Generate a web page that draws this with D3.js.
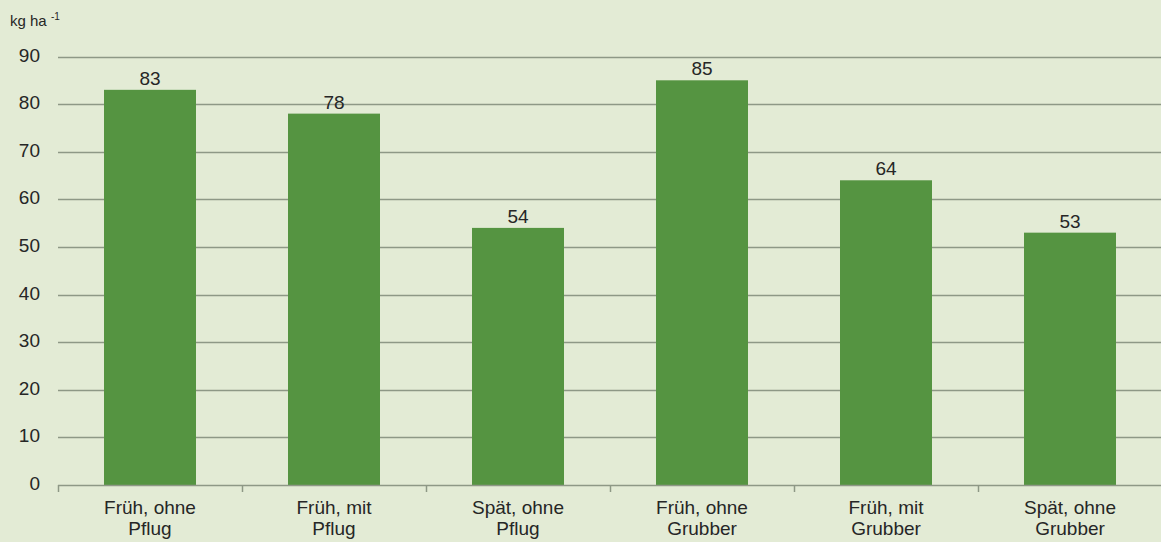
<!DOCTYPE html>
<html><head><meta charset="utf-8">
<script src="https://cdn.jsdelivr.net/npm/d3@7"></script>
<style>html,body{margin:0;padding:0;background:#e3ebd5;}svg{display:block;font-family:"Liberation Sans",Arial,sans-serif;}</style>
</head><body><svg id="c" width="1161" height="542"></svg>
<script>
const categories = [["Früh, ohne","Pflug"],["Früh, mit","Pflug"],["Spät, ohne","Pflug"],["Früh, ohne","Grubber"],["Früh, mit","Grubber"],["Spät, ohne","Grubber"]];
const values = [83,78,54,85,64,53];
const yTicks = [0,10,20,30,40,50,60,70,80,90];

const svg = d3.select("#c");
svg.append("rect").attr("width",1161).attr("height",542).attr("fill","#e3ebd5");
const x = d3.scaleBand().domain(d3.range(categories.length)).range([58,1162]).paddingInner(0.5).paddingOuter(0.25);
const y = d3.scaleLinear().domain([0,90]).range([485,56.5]);

// gridlines
svg.append("g").selectAll("line").data(yTicks.filter(d=>d>0)).join("line")
  .attr("x1",58).attr("x2",1161).attr("y1",d=>Math.round(y(d))+0.5).attr("y2",d=>Math.round(y(d))+0.5)
  .attr("stroke","#8e9886").attr("stroke-width",1.5);

// y tick labels
svg.append("g").selectAll("text").data(yTicks).join("text")
  .attr("x",40).attr("y",d=>y(d)+5).attr("text-anchor","end")
  .attr("font-size",19).attr("fill","#262626").text(d=>d);

// bars
svg.append("g").selectAll("rect").data(values).join("rect")
  .attr("x",(d,i)=>x(i)).attr("width",x.bandwidth())
  .attr("y",d=>y(d)).attr("height",d=>y(0)-y(d)).attr("fill","#559441");

// value labels
svg.append("g").selectAll("text").data(values).join("text")
  .attr("x",(d,i)=>x(i)+x.bandwidth()/2).attr("y",d=>y(d)-5).attr("text-anchor","middle")
  .attr("font-size",19).attr("fill","#262626").text(d=>d);

// x axis
const step = x.step();
const axisG = svg.append("g");
axisG.append("line").attr("x1",58).attr("x2",1161).attr("y1",485.5).attr("y2",485.5).attr("stroke","#8e9886").attr("stroke-width",1.5);
axisG.selectAll("line.t").data(d3.range(categories.length+1)).join("line").attr("class","t")
  .attr("x1",i=>Math.round(58+i*step)+0.5).attr("x2",i=>Math.round(58+i*step)+0.5)
  .attr("y1",485).attr("y2",492).attr("stroke","#8e9886").attr("stroke-width",1.5);
const lab = axisG.selectAll("text.c").data(categories).join("text").attr("class","c")
  .attr("text-anchor","middle").attr("font-size",19).attr("fill","#262626");
lab.each(function(d,i){
  const t=d3.select(this);
  d.forEach((s,k)=>t.append("tspan").attr("x",x(i)+x.bandwidth()/2).attr("y",514+k*21).text(s));
});

// unit label
const u = svg.append("text").attr("x",10).attr("y",26).attr("font-size",15).attr("fill","#262626");
u.append("tspan").text("kg ha ");
u.append("tspan").attr("font-size",10).attr("dy",-6).text("-1");
</script></body></html>
